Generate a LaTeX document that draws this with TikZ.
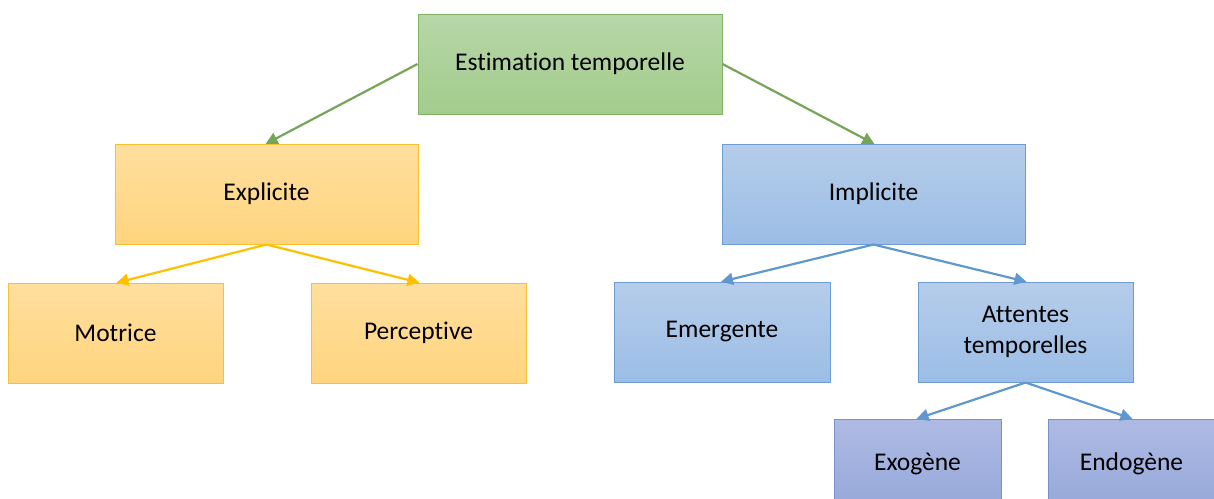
\documentclass[tikz,border=0pt]{standalone}
\usepackage{fontspec}
\setmainfont{Carlito}[Ligatures=NoCommon]
\usetikzlibrary{arrows.meta}
\definecolor{gtop}{HTML}{B7D7A8}
\definecolor{gbot}{HTML}{A3CC8C}
\definecolor{gline}{HTML}{82B366}
\definecolor{garr}{HTML}{74A558}
\definecolor{otop}{HTML}{FFDF9E}
\definecolor{obot}{HTML}{FFD47E}
\definecolor{oline}{HTML}{F7C232}
\definecolor{oarr}{HTML}{FFC000}
\definecolor{btop}{HTML}{B6CDEA}
\definecolor{bbot}{HTML}{9BBDE6}
\definecolor{bline}{HTML}{6E9BD0}
\definecolor{barr}{HTML}{5F98D0}
\definecolor{ptop}{HTML}{AEBAE3}
\definecolor{pbot}{HTML}{96A8DA}
\definecolor{pline}{HTML}{7592CC}
\tikzset{
  box/.style={draw, line width=1pt, minimum height=100pt, inner sep=0pt, align=center,
    font=\fontsize{25.5}{31}\selectfont, text=black},
  gbox/.style={box, draw=gline, top color=gtop, bottom color=gbot},
  obox/.style={box, draw=oline, top color=otop, bottom color=obot},
  bbox/.style={box, draw=bline, top color=btop, bottom color=bbot},
  pbox/.style={box, draw=pline, top color=ptop, bottom color=pbot},
  conn/.style={line width=2.2pt, -{Triangle[length=12pt,width=12pt]}, shorten >=-1pt},
}
\begin{document}
\begin{tikzpicture}[x=1pt,y=-1pt]
\useasboundingbox (0,0) rectangle (1214,498);
\begin{scope}
\clip (0,0) rectangle (1214,498);
\node[gbox, minimum width=304pt] (root) at (570,64) {Estimation temporelle};
\node[obox, minimum width=303pt] (expl) at (266.5,194) {Explicite};
\node[bbox, minimum width=303pt] (impl) at (873.5,194) {Implicite};
\node[obox, minimum width=215pt] (motr) at (115.5,333) {Motrice};
\node[obox, minimum width=215pt] (perc) at (418.5,333) {Perceptive};
\node[bbox, minimum width=216pt] (emer) at (722,332) {Emergente};
\node[bbox, minimum width=215pt] (atte) at (1025.5,332) {Attentes\\temporelles};
\node[pbox, minimum width=167pt, minimum height=90pt] (exog) at (917.5,464) {Exogène};
\node[pbox, minimum width=167pt, minimum height=90pt] (endo) at (1131.5,464) {Endogène};
\end{scope}
\draw[conn, draw=garr, fill=garr] (root.west) -- (expl.north);
\draw[conn, draw=garr, fill=garr] (root.east) -- (impl.north);
\draw[conn, draw=oarr, fill=oarr] (expl.south) -- ([xshift=2pt]motr.north);
\draw[conn, draw=oarr, fill=oarr] (expl.south) -- (perc.north);
\draw[conn, draw=barr, fill=barr] (impl.south) -- (emer.north);
\draw[conn, draw=barr, fill=barr] (impl.south) -- (atte.north);
\draw[conn, draw=barr, fill=barr] (atte.south) -- (exog.north);
\draw[conn, draw=barr, fill=barr] (atte.south) -- (endo.north);
\end{tikzpicture}
\end{document}
